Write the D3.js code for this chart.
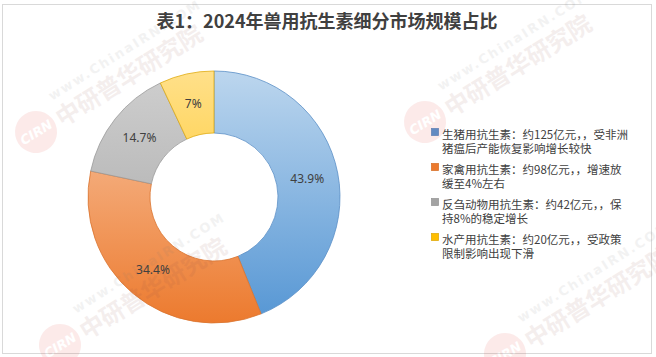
<!DOCTYPE html>
<html><head><meta charset="utf-8">
<script src="https://cdn.jsdelivr.net/npm/d3@7/dist/d3.min.js"></script>
<style>body{margin:0;background:#fff}svg{display:block}</style>
</head><body>
<svg id="c" width="656" height="357"></svg>
<script>
const title = "表1：2024年兽用抗生素细分市场规模占比";
const categories = ["生猪用抗生素", "家禽用抗生素", "反刍动物用抗生素", "水产用抗生素"];
const values = [43.9, 34.4, 14.7, 7];
const valueLabels = ["43.9%", "34.4%", "14.7%", "7%"];
const legendLines = [
  ["生猪用抗生素：约125亿元，，受非洲", "猪瘟后产能恢复影响增长较快"],
  ["家禽用抗生素：约98亿元，，增速放", "缓至4%左右"],
  ["反刍动物用抗生素：约42亿元，，保", "持8%的稳定增长"],
  ["水产用抗生素：约20亿元，，受政策", "限制影响出现下滑"]
];
const lightColors = ["#bcd6ee", "#f9c9a8", "#cfcfcf", "#ffe08a"];
const darkColors = ["#5596d4", "#ec7a2e", "#a3a3a3", "#ffbe00"];
const strokeColors = ["#5a8fc6", "#d9742f", "#9a9a9a", "#e0ab10"];

const svg = d3.select("#c");
const font = "'Noto Sans CJK SC', 'Noto Sans', sans-serif";

// frame
svg.append("rect").attr("x", 2.5).attr("y", 4.5).attr("width", 649).attr("height", 349)
  .attr("fill", "#fff").attr("stroke", "#d9d9d9");

// title
svg.append("text").attr("x", 327).attr("y", 28).attr("text-anchor", "middle")
  .attr("font-family", font).attr("font-weight", "bold").attr("font-size", 18)
  .attr("fill", "#404040").text(title);

// gradients
const defs = svg.append("defs");
categories.forEach((c, i) => {
  const lg = defs.append("linearGradient").attr("id", "g" + i)
    .attr("gradientUnits", "userSpaceOnUse").attr("x1", 0).attr("y1", -126).attr("x2", 0).attr("y2", 126);
  lg.append("stop").attr("offset", "0%").attr("stop-color", lightColors[i]);
  lg.append("stop").attr("offset", "100%").attr("stop-color", darkColors[i]);
});

const cx = 214, cy = 197, rOut = 126, rIn = 64;
const pie = d3.pie().sort(null).value(d => d)(values);
const arc = d3.arc().innerRadius(rIn).outerRadius(rOut);
const labelArc = d3.arc().innerRadius(95).outerRadius(95);
const g = svg.append("g").attr("transform", `translate(${cx},${cy})`);
g.selectAll("path").data(pie).join("path")
  .attr("d", arc).attr("fill", (d, i) => `url(#g${i})`)
  .attr("stroke", (d, i) => strokeColors[i]).attr("stroke-width", 0.8);
g.selectAll("text.lbl").data(pie).join("text").attr("class", "lbl")
  .attr("transform", d => `translate(${labelArc.centroid(d)})`)
  .attr("text-anchor", "middle").attr("dy", "0.35em")
  .attr("font-family", "'Noto Sans', sans-serif").attr("font-size", 12).attr("fill", "#404040")
  .text((d, i) => valueLabels[i]);

// legend
const legY = [135, 170, 205, 240];
const lg = svg.append("g");
categories.forEach((c, i) => {
  const y = legY[i];
  lg.append("rect").attr("x", 431.5).attr("y", y - 6.5).attr("width", 7).attr("height", 7)
    .attr("fill", darkColors[i]).attr("stroke", strokeColors[i]).attr("stroke-width", 0.8);
  legendLines[i].forEach((t, j) => {
    lg.append("text").attr("x", 442).attr("y", y + 4 + j * 14)
      .attr("font-family", font).attr("font-size", 11.5).attr("fill", "#404040").text(t);
  });
});

// watermarks (faint, on top)
function watermark(x, y) {
  const w = svg.append("g").attr("transform", `translate(${x},${y}) rotate(-32)`).attr("opacity", 0.09)
    .attr("pointer-events", "none");
  w.append("circle").attr("cx", 0).attr("cy", 0).attr("r", 21).attr("fill", "#e0241b");
  w.append("text").attr("x", 0).attr("y", 5).attr("text-anchor", "middle")
    .attr("font-family", "'DejaVu Sans', sans-serif").attr("font-weight", "bold").attr("font-style", "italic")
    .attr("font-size", 13).attr("fill", "#fff").text("CIRN");
  w.append("text").attr("x", 25).attr("y", 10).attr("font-family", font).attr("font-weight", "bold")
    .attr("font-size", 24).attr("fill", "#8a4a48").text("中研普华研究院");
  w.append("text").attr("x", 30).attr("y", -18).attr("font-family", "'DejaVu Sans', sans-serif").attr("font-weight", "bold")
    .attr("font-size", 13).attr("fill", "#777").attr("letter-spacing", 2).text("www.ChinaIRN.COM");
}
watermark(36, 132);
watermark(425, 122);
watermark(60, 345);
watermark(505, 354);
</script>
</body></html>
